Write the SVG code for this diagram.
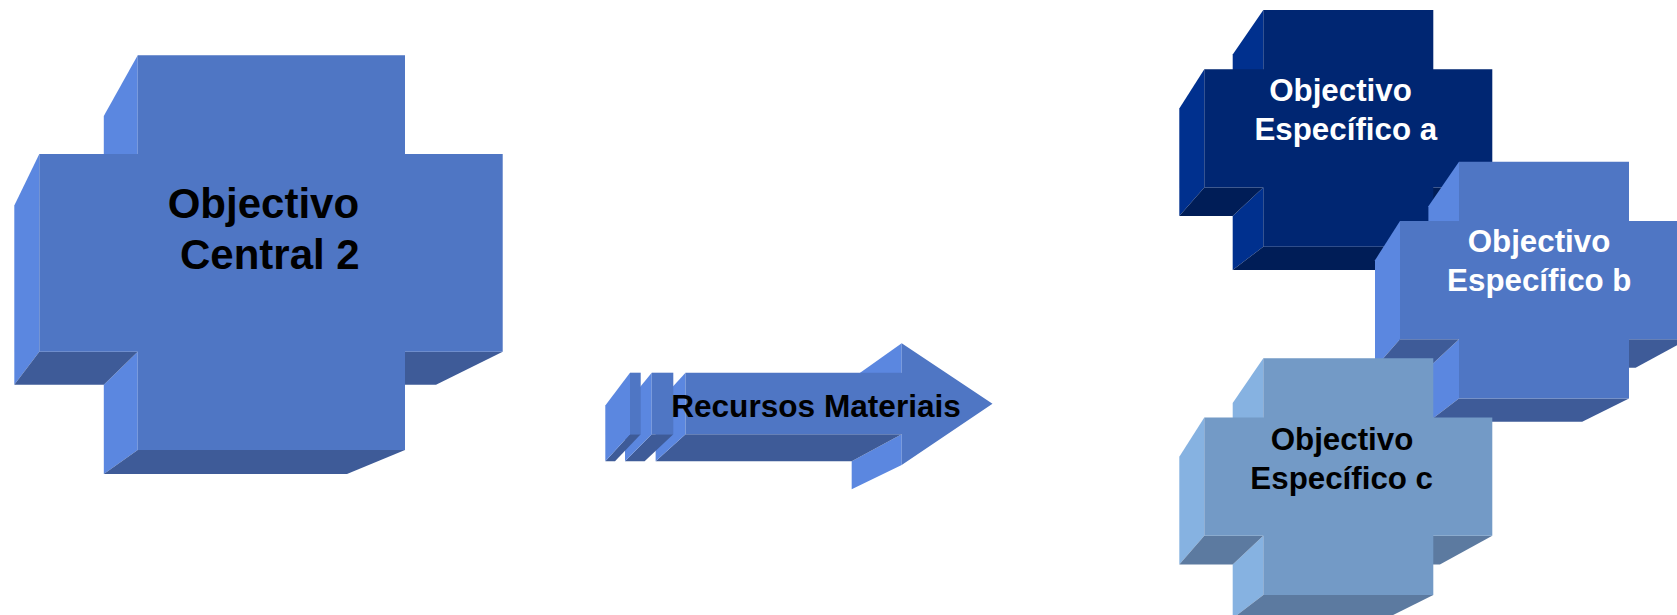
<svg xmlns="http://www.w3.org/2000/svg" width="1677" height="615" viewBox="0 0 1677 615">
<style>
.lt{fill:#5B87E0}.dk{fill:#3E5B98}.fr{fill:#4F76C4}
.navy .lt{fill:#00308E}.navy .dk{fill:#001D57}.navy .fr{fill:#002672}
.pale .lt{fill:#86B2E1}.pale .dk{fill:#5C7AA0}.pale .fr{fill:#739AC6}
text{font-family:"Liberation Sans",Arial,sans-serif;font-weight:bold}
.bk{fill:#000}.wh{fill:#fff}
</style>
<rect width="1677" height="615" fill="#fff"/>
<g id="central">
<polygon class="lt" points="137.7,55.3 103.8,116 103.8,205.5 137.7,154"/>
<polygon class="lt" points="39.3,154 14.3,205.5 14.3,384.8 39.3,351.7"/>
<polygon class="lt" points="137.7,351.7 103.8,384.8 103.8,474 137.7,450"/>
<polygon class="dk" points="39.3,351.7 137.7,351.7 103.8,384.8 14.3,384.8"/>
<polygon class="dk" points="137.7,450 405,450 347,474 103.8,474"/>
<polygon class="dk" points="405,351.7 502.7,351.7 436,384.8 347,384.8"/>
<polygon class="fr" points="137.7,55.3 405,55.3 405,154 502.7,154 502.7,351.7 405,351.7 405,450 137.7,450 137.7,351.7 39.3,351.7 39.3,154 137.7,154"/>
<text class="bk" font-size="42" x="167.7" y="218">Objectivo</text>
<text class="bk" font-size="42" x="180" y="268.5">Central 2</text>
</g>
<g id="connectors">
<g id="arrow">
<polygon class="lt" points="901.7,343.3 851.7,378.8 851.7,405.4 901.7,372.7"/>
<polygon class="lt" points="901.7,434.3 851.7,461.3 851.7,489.2 901.7,465"/>
<polygon class="dk" points="685.5,434.3 901.7,434.3 851.7,461.3 655.6,461.3"/>
<polygon class="lt" points="685.5,372.7 655.6,405.4 655.6,461.3 685.5,434.3"/>
<polygon class="dk" points="651.7,434.3 673.3,434.3 644.6,461.3 625,461.3"/>
<polygon class="lt" points="651.7,372.7 625,405.4 625,461.3 651.7,434.3"/>
<polygon class="dk" points="630,434.3 640.7,434.3 615,461.3 605.3,461.3"/>
<polygon class="lt" points="630,372.7 605.3,405.4 605.3,461.3 630,434.3"/>
<rect class="fr" x="630" y="372.7" width="10.7" height="61.6"/>
<rect class="fr" x="651.7" y="372.7" width="21.6" height="61.6"/>
<polygon class="fr" points="685.5,372.7 901.7,372.7 901.7,343.3 992.5,403.8 901.7,465 901.7,434.3 685.5,434.3"/>
<text class="bk" font-size="31.6" x="816" y="417" text-anchor="middle">Recursos Materiais</text>
</g>
</g>
<g id="spec-a" class="navy" transform="translate(1204.3,10)">
<polygon class="lt" points="59,0 28.4,44.6 28.4,98.5 59,59.2"/>
<polygon class="lt" points="0,59.2 -25,98.5 -25,206.1 0,177.5"/>
<polygon class="lt" points="59,177.5 28.4,206.1 28.4,260 59,236.7"/>
<polygon class="dk" points="0,177.5 59,177.5 28.4,206.1 -25,206.1"/>
<polygon class="dk" points="59,236.7 229,236.7 182.2,260 28.4,260"/>
<polygon class="dk" points="229,177.5 288,177.5 235.6,206.1 182.2,206.1"/>
<polygon class="fr" points="59,0 229,0 229,59.2 288,59.2 288,177.5 229,177.5 229,236.7 59,236.7 59,177.5 0,177.5 0,59.2 59,59.2"/>
<text class="wh" font-size="31.3" x="136.2" y="91" text-anchor="middle">Objectivo</text>
<text class="wh" font-size="31.3" x="141.5" y="130" text-anchor="middle">Específico a</text>
</g>
<g id="spec-b" transform="translate(1400,161.7)">
<polygon class="lt" points="59,0 28.4,44.6 28.4,98.5 59,59.2"/>
<polygon class="lt" points="0,59.2 -25,98.5 -25,206.1 0,177.5"/>
<polygon class="lt" points="59,177.5 28.4,206.1 28.4,260 59,236.7"/>
<polygon class="dk" points="0,177.5 59,177.5 28.4,206.1 -25,206.1"/>
<polygon class="dk" points="59,236.7 229,236.7 182.2,260 28.4,260"/>
<polygon class="dk" points="229,177.5 288,177.5 235.6,206.1 182.2,206.1"/>
<polygon class="fr" points="59,0 229,0 229,59.2 288,59.2 288,177.5 229,177.5 229,236.7 59,236.7 59,177.5 0,177.5 0,59.2 59,59.2"/>
<text class="wh" font-size="31.3" x="139" y="90" text-anchor="middle">Objectivo</text>
<text class="wh" font-size="31.3" x="139.3" y="129.5" text-anchor="middle">Específico b</text>
</g>
<g id="spec-c" class="pale" transform="translate(1204.3,358.3)">
<polygon class="lt" points="59,0 28.4,44.6 28.4,98.5 59,59.2"/>
<polygon class="lt" points="0,59.2 -25,98.5 -25,206.1 0,177.5"/>
<polygon class="lt" points="59,177.5 28.4,206.1 28.4,260 59,236.7"/>
<polygon class="dk" points="0,177.5 59,177.5 28.4,206.1 -25,206.1"/>
<polygon class="dk" points="59,236.7 229,236.7 182.2,260 28.4,260"/>
<polygon class="dk" points="229,177.5 288,177.5 235.6,206.1 182.2,206.1"/>
<polygon class="fr" points="59,0 229,0 229,59.2 288,59.2 288,177.5 229,177.5 229,236.7 59,236.7 59,177.5 0,177.5 0,59.2 59,59.2"/>
<text class="bk" font-size="31.3" x="137.7" y="91.7" text-anchor="middle">Objectivo</text>
<text class="bk" font-size="31.3" x="137.4" y="130.7" text-anchor="middle">Específico c</text>
</g>
</svg>
